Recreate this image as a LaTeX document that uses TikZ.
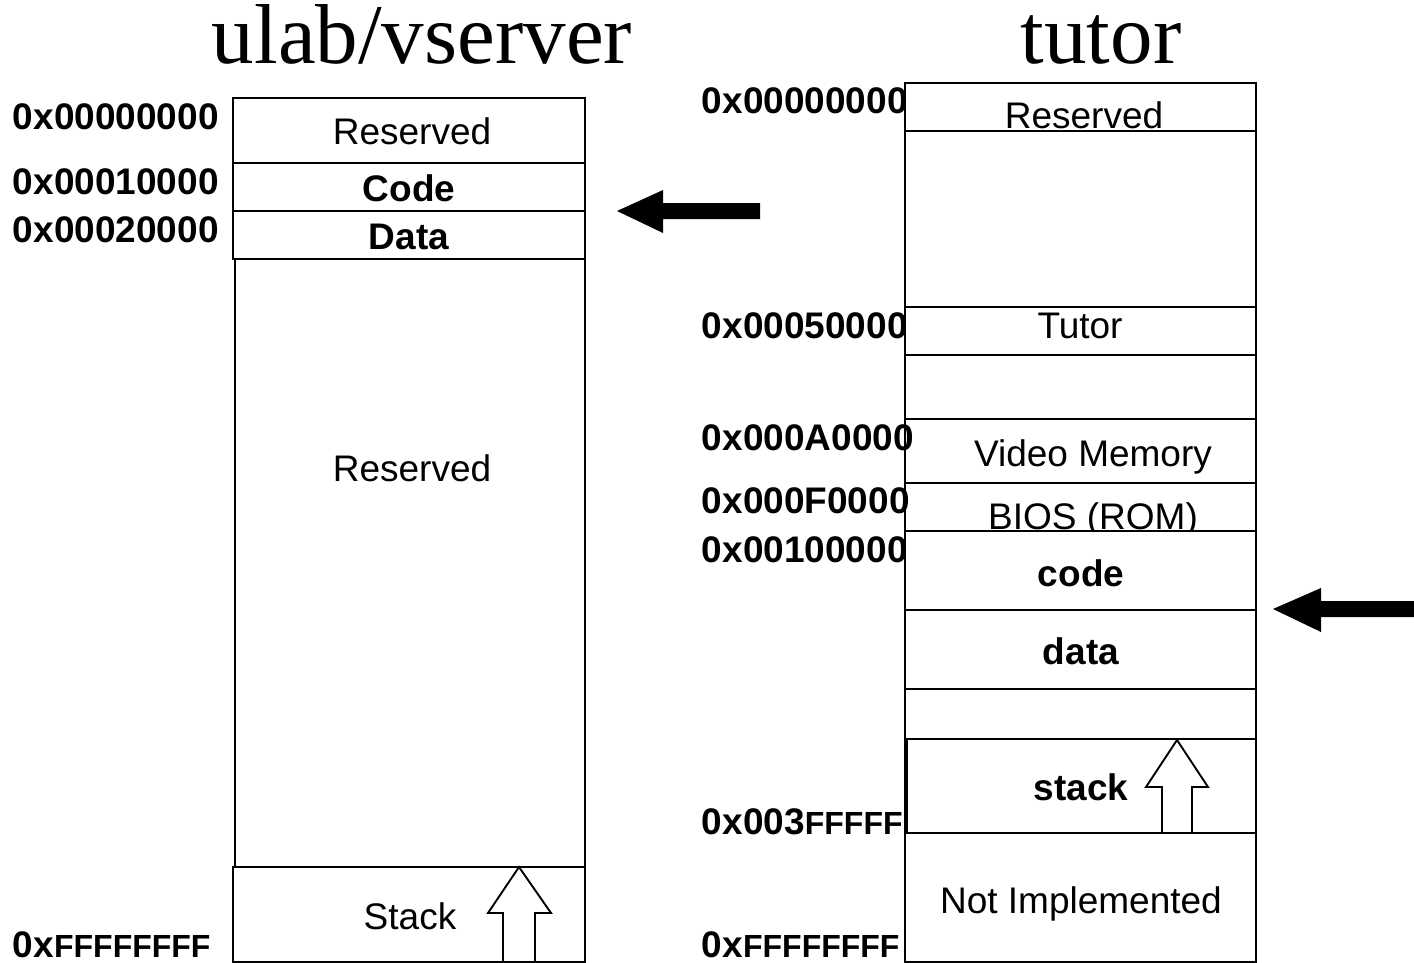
\documentclass[tikz,border=0pt]{standalone}
\usepackage{fontspec}
\newfontfamily\labelfont{Liberation Sans}
\newfontfamily\titlefont{Liberation Serif}
\newcommand{\smallF}[1]{{\fontsize{32}{34}\selectfont #1}}
\begin{document}
\begin{tikzpicture}[x=1pt,y=-1pt,line width=1.9pt,
  mem/.style={draw=black,fill=white},
  txt/.style={font=\labelfont\fontsize{37}{40}\selectfont,anchor=base,inner sep=0pt},
  btxt/.style={font=\labelfont\bfseries\fontsize{37}{40}\selectfont,anchor=base,inner sep=0pt},
  addr/.style={font=\labelfont\bfseries\fontsize{37}{40}\selectfont,anchor=base west,inner sep=0pt},
  ttl/.style={font=\titlefont\fontsize{85}{90}\selectfont,anchor=base,inner sep=0pt},
  blockarrow/.style={fill=black,draw=none},
  growarrow/.style={draw=black,fill=white,line join=miter}]
\useasboundingbox (0,0) rectangle (1414,963);
\fill[white] (0,0) rectangle (1414,963);

% titles
\node[ttl] (t1) at (422,64) {ulab/vserver};
\node[ttl] (t2) at (1101,64) {tutor};

% ---------- ulab/vserver address space ----------
\draw[mem] (233,98) rectangle (585,163);
\draw[mem] (233,163) rectangle (585,211);
\draw[mem] (233,211) rectangle (585,259);
\draw[mem] (235,259) rectangle (585,867);
\draw[mem] (233,867) rectangle (585,962);
\node[txt]  (lres1) at (412,145) {Reserved};
\node[btxt] (lcode) at (409,201) {Code};
\node[btxt] (ldata) at (409,249) {Data};
\node[txt]  (lres2) at (412,481) {Reserved};
\node[txt]  (lstack) at (410,929) {Stack};
\draw[growarrow] (519,867) -- (551,913) -- (535,913) -- (535,962) -- (503,962) -- (503,913) -- (488,913) -- cycle;

\node[addr] (la0) at (12,130) {0x00000000};
\node[addr] (la1) at (12,194) {0x00010000};
\node[addr] (la2) at (12,242) {0x00020000};
\node[addr] (la3) at (12,957) {0x\smallF{FFFFFFFF}};

% ---------- tutor address space ----------
\draw[mem] (905,83) rectangle (1256,962);
\node[txt] (rres) at (1084,129) {Reserved};
\draw (905,131) -- (1256,131);
\draw (905,307) rectangle (1256,355);
\node[txt] (rtutor) at (1080,338) {Tutor};
\draw (905,419) -- (1256,419);
\node[txt] (rvid) at (1093,466) {Video Memory};
\draw (905,483) -- (1256,483);
\node[txt] (rbios) at (1093,529) {BIOS (ROM)};
\draw[mem] (905,531) rectangle (1256,610);
\draw[mem] (905,610) rectangle (1256,689);
\node[btxt] (rcode) at (1081,586) {code};
\node[btxt] (rdata) at (1081,664) {data};
\draw[mem] (907,739) rectangle (1256,833);
\node[btxt] (rstack) at (1081,800) {stack};
\draw[growarrow] (1177,740) -- (1208,787) -- (1192,787) -- (1192,833) -- (1162,833) -- (1162,787) -- (1146,787) -- cycle;
\node[txt] (rni) at (1081,913) {Not Implemented};

\node[addr] (ra0) at (701,114) {0x00000000};
\node[addr] (ra1) at (701,338) {0x00050000};
\node[addr] (ra2) at (701,450) {0x000A0000};
\node[addr] (ra3) at (701,513) {0x000F0000};
\node[addr] (ra4) at (701,562) {0x00100000};
\node[addr] (ra5) at (701,834) {0x003\smallF{FFFFF}};
\node[addr] (ra6) at (701,957) {0x\smallF{FFFFFFFF}};

% pointer arrows
\fill[blockarrow] (617,211) -- (663,190) -- (663,203) -- (760,203) -- (760,219) -- (663,219) -- (663,233) -- cycle;
\fill[blockarrow] (1273,609) -- (1321,588) -- (1321,601) -- (1414,601) -- (1414,617) -- (1321,617) -- (1321,632) -- cycle;
\end{tikzpicture}
\end{document}
